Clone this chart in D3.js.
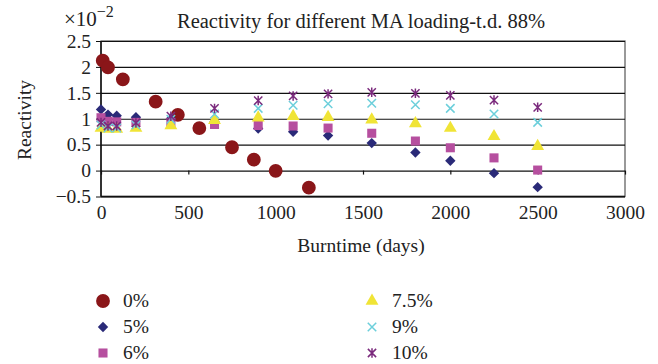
<!DOCTYPE html>
<html>
<head>
<meta charset="utf-8">
<script src="https://cdn.jsdelivr.net/npm/d3@7"></script>
<style>
  html, body { margin: 0; padding: 0; background: #fff; }
  svg { display: block; }
</style>
</head>
<body>
<svg id="chart" width="658" height="364"></svg>
<script>
// ---- data (reactivity in units of 1e-2) ----
const xTicks = [0, 500, 1000, 1500, 2000, 2500, 3000];
const yTicks = [-0.5, 0, 0.5, 1, 1.5, 2, 2.5];

const days0 = [10, 40, 125, 313, 440, 563, 750, 875, 1000, 1190];
const ma0 = [2.12, 1.99, 1.76, 1.33, 1.075, 0.82, 0.45, 0.21, -0.005, -0.33];

const daysMA = [0, 40, 90, 200, 400, 650, 900, 1100, 1300, 1550, 1800, 2000, 2250, 2500];
const ma5  = [1.18, 1.08, 1.06, 1.03, 1.00, 0.94, 0.81, 0.75, 0.675, 0.53, 0.35, 0.19, -0.05, -0.32];
const ma6  = [1.02, 0.95, 0.94, 0.93, 0.93, 0.89, 0.87, 0.86, 0.82, 0.72, 0.57, 0.44, 0.245, 0.01];
const ma75 = [0.82, 0.80, 0.80, 0.82, 0.87, 0.97, 1.02, 1.05, 1.03, 0.98, 0.91, 0.82, 0.66, 0.47];
const ma9  = [0.88, 0.82, 0.82, 0.88, 0.99, 1.09, 1.20, 1.26, 1.29, 1.30, 1.27, 1.20, 1.09, 0.93];
const ma10 = [0.93, 0.86, 0.86, 0.92, 1.05, 1.20, 1.35, 1.44, 1.48, 1.51, 1.49, 1.45, 1.36, 1.22];

const seriesNames = ["0%", "5%", "6%", "7.5%", "9%", "10%"];
const seriesColors = ["#8a1619", "#2a2a78", "#b64f9f", "#f0e436", "#6ccfdb", "#7b2a7d"];

// ---- layout ----
const FONT = '"Liberation Serif", "DejaVu Serif", serif';
const svg = d3.select("#chart");
const margin = { left: 101, right: 33, top: 41, bottom: 168 };
const W = 658, H = 364;
const x = d3.scaleLinear().domain([0, 3000]).range([margin.left, W - margin.right]);
const y = d3.scaleLinear().domain([-0.5, 2.5]).range([H - margin.bottom + 0.5, margin.top]);

// symbol generators
const cross = {
  draw(ctx, size) {
    const r = Math.sqrt(size) / 2;
    ctx.moveTo(-r, -r); ctx.lineTo(r, r);
    ctx.moveTo(-r, r); ctx.lineTo(r, -r);
  }
};
const asterisk = {
  draw(ctx, size) {
    const r = Math.sqrt(size) / 2;
    ctx.moveTo(-r, -r); ctx.lineTo(r, r);
    ctx.moveTo(-r, r); ctx.lineTo(r, -r);
    ctx.moveTo(0, -r * 1.15); ctx.lineTo(0, r * 1.15);
  }
};
const diamond = {
  draw(ctx, size) {
    const r = Math.sqrt(size / 2);
    ctx.moveTo(0, -r); ctx.lineTo(r, 0); ctx.lineTo(0, r); ctx.lineTo(-r, 0); ctx.closePath();
  }
};
const symDefs = [
  { type: d3.symbolCircle, size: 150, stroke: false },
  { type: diamond, size: 54, stroke: false },
  { type: d3.symbolSquare, size: 82, stroke: false },
  { type: d3.symbolTriangle, size: 72, stroke: false },
  { type: cross, size: 72, stroke: true },
  { type: asterisk, size: 68, stroke: true }
];

function drawSym(sel, i) {
  const d = symDefs[i];
  sel.attr("d", d3.symbol().type(d.type).size(d.size)())
    .attr("fill", d.stroke ? "none" : seriesColors[i])
    .attr("stroke", d.stroke ? seriesColors[i] : "none")
    .attr("stroke-width", d.stroke ? 1.5 : 0);
}

function styleText(sel, size) {
  sel.attr("font-family", FONT).attr("font-size", size).attr("fill", "#222");
}

// frame top/right
svg.append("rect")
  .attr("x", x(0)).attr("y", y(2.5))
  .attr("width", x(3000) - x(0)).attr("height", y(-0.5) - y(2.5))
  .attr("fill", "none").attr("stroke", "#555").attr("stroke-width", 1.2);

// gridlines with left ticks
const yAxis = d3.axisLeft(y).tickValues(yTicks).tickSize(-(x(3000) - x(0))).tickPadding(10)
  .tickFormat(d => d === 0 ? "0" : (d < 0 ? "\u2212" + Math.abs(d) : String(d)));
const gy = svg.append("g").attr("transform", `translate(${x(0)},0)`).call(yAxis);
gy.attr("font-family", null).attr("font-size", null);
gy.select(".domain").remove();
gy.selectAll(".tick line").attr("stroke", "#111").attr("stroke-width", 1.1);
gy.selectAll(".tick").append("line").attr("x1", -5).attr("x2", 0).attr("stroke", "#111");
gy.selectAll(".tick text").call(styleText, 19.5);

// left axis line
svg.append("line").attr("x1", x(0)).attr("x2", x(0)).attr("y1", y(2.5)).attr("y2", y(-0.5))
  .attr("stroke", "#111").attr("stroke-width", 1.5);
// bottom axis line
svg.append("line").attr("x1", x(0)).attr("x2", x(3000)).attr("y1", y(-0.5)).attr("y2", y(-0.5))
  .attr("stroke", "#111").attr("stroke-width", 1.5);

// x ticks crossing at zero
const xTickAxis = d3.axisBottom(x).tickValues(xTicks).tickSize(4).tickFormat("");
const gxt = svg.append("g").attr("transform", `translate(0,${y(0)})`).call(xTickAxis);
gxt.select(".domain").remove();
gxt.selectAll(".tick line").attr("stroke", "#111").attr("stroke-width", 1.2);

// x tick labels at bottom
const xAxis = d3.axisBottom(x).tickValues(xTicks).tickSize(0).tickPadding(9).tickFormat(d3.format("d"));
const gx = svg.append("g").attr("transform", `translate(0,${y(-0.5)})`).call(xAxis);
gx.attr("font-family", null).attr("font-size", null);
gx.select(".domain").remove();
gx.selectAll(".tick text").call(styleText, 19.5);

// series
const allSeries = [
  { xs: days0, ys: ma0 },
  { xs: daysMA, ys: ma5 },
  { xs: daysMA, ys: ma6 },
  { xs: daysMA, ys: ma75 },
  { xs: daysMA, ys: ma9 },
  { xs: daysMA, ys: ma10 }
];
allSeries.forEach((s, i) => {
  svg.append("g").selectAll("path")
    .data(s.xs.map((d, k) => [d, s.ys[k]]))
    .join("path")
    .attr("transform", d => `translate(${x(d[0])},${y(d[1])})`)
    .call(sel => drawSym(sel, i));
});

// title
svg.append("text").attr("x", 361).attr("y", 28).attr("text-anchor", "middle")
  .call(styleText, 20.5).text("Reactivity for different MA loading-t.d. 88%");

// exponent
const ex = svg.append("text").attr("x", 64).attr("y", 26).call(styleText, 21);
ex.append("tspan").text("\u00d710");
ex.append("tspan").attr("dy", -9).attr("font-size", 16).text("\u22122");

// axis titles
svg.append("text").attr("x", 361).attr("y", 252).attr("text-anchor", "middle")
  .call(styleText, 19.5).text("Burntime (days)");
svg.append("text").attr("transform", "translate(31,120) rotate(-90)").attr("text-anchor", "middle")
  .call(styleText, 19.5).text("Reactivity");

// legend
const legPos = [[103, 301], [103, 327], [103, 353], [372, 301], [372, 327], [372, 353]];
seriesNames.forEach((name, i) => {
  const g = svg.append("g").attr("transform", `translate(${legPos[i][0]},${legPos[i][1]})`);
  g.append("path").call(sel => drawSym(sel, i));
  g.append("text").attr("x", 20).attr("y", 6).call(styleText, 19.5).text(name);
});
</script>
</body>
</html>
